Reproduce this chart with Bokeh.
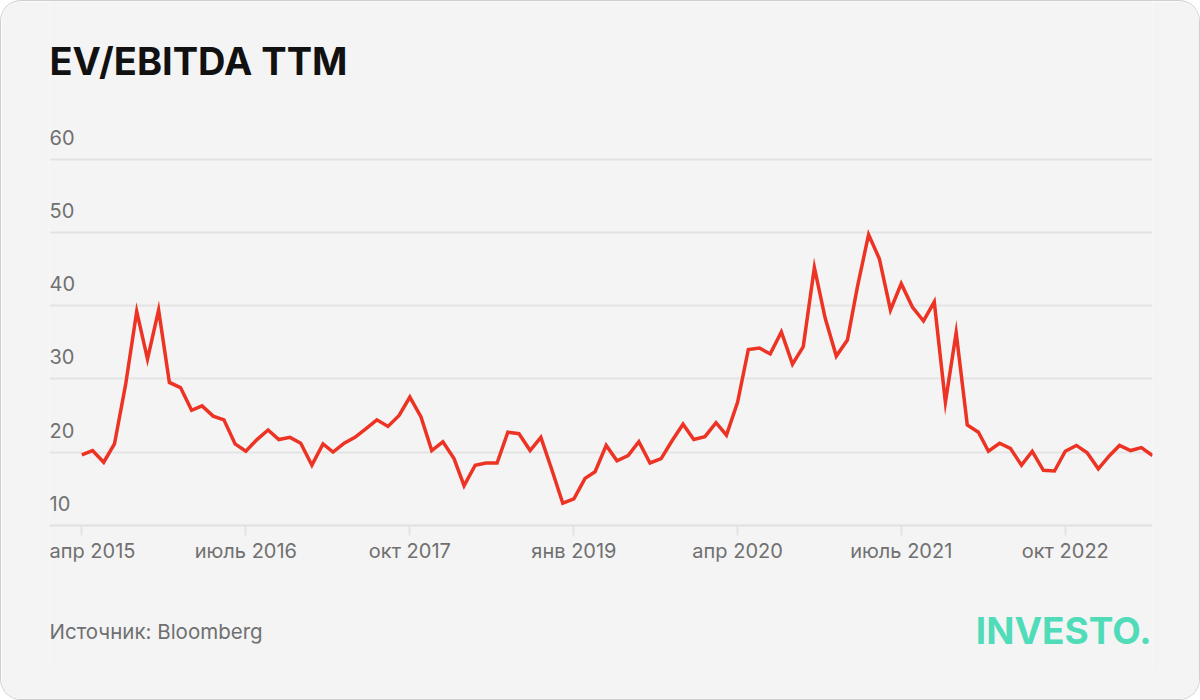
import pandas as pd
from bokeh.plotting import figure
from bokeh.models import FixedTicker, ColumnDataSource, Range1d
from bokeh.core.properties import value
from bokeh.embed import file_html
from bokeh.resources import INLINE

# ---------------- data ----------------
start_month = "2015-04-01"
ev_ebitda = [
    19.6, 20.2, 18.6, 21.1, 29.2, 39.2, 32.7, 39.4, 29.5, 28.8,
    25.7, 26.3, 24.9, 24.4, 21.1, 20.1, 21.7, 23.0, 21.7, 22.0,
    21.2, 18.2, 21.1, 20.0, 21.2, 22.0, 23.2, 24.4, 23.5, 25.0,
    27.5, 24.8, 20.2, 21.4, 19.1, 15.4, 18.2, 18.5, 18.5, 22.7,
    22.5, 20.2, 22.0, 17.5, 13.0, 13.6, 16.4, 17.3, 20.9, 18.8,
    19.5, 21.4, 18.5, 19.1, 21.5, 23.8, 21.7, 22.1, 24.0, 22.3,
    26.8, 34.0, 34.2, 33.4, 36.4, 32.0, 34.4, 45.2, 38.3, 33.1,
    35.3, 42.6, 49.7, 46.4, 39.4, 43.0, 39.8, 37.9, 40.5, 26.8,
    36.3, 23.7, 22.7, 20.1, 21.2, 20.5, 18.2, 20.1, 17.5, 17.4,
    20.1, 20.9, 19.9, 17.7, 19.5, 20.9, 20.2, 20.6, 19.5,
]
y_ticks = [10, 20, 30, 40, 50, 60]
x_tick_dates = ["2015-04-01", "2016-07-01", "2017-10-01", "2019-01-01",
                "2020-04-01", "2021-07-01", "2022-10-01"]
x_tick_labels = ["апр 2015", "июль 2016", "окт 2017", "янв 2019",
                 "апр 2020", "июль 2021", "окт 2022"]
title_text = "EV/EBITDA TTM"
source_text = "Источник: Bloomberg"
logo_text = "INVESTO."

# ---------------- build ----------------
dates = pd.date_range(start_month, periods=len(ev_ebitda), freq="MS")
src = ColumnDataSource(dict(date=dates, val=ev_ebitda))

x_start = dates[0] - pd.DateOffset(months=3)
x_end = dates[-1]
tick_ts = [pd.Timestamp(d) for d in x_tick_dates]

W, H = 1198, 698
Y0, Y1 = -9.713, 81.544   # frame spans the whole height above the axis panel

p = figure(width=W, height=H, x_axis_type="datetime", title=None,
           y_axis_location=None,
           x_range=Range1d(x_start, x_end), y_range=Range1d(Y0, Y1),
           output_backend="svg", toolbar_location=None,
           min_border_left=48, min_border_right=47,
           min_border_top=0, min_border_bottom=30,
           background_fill_color="#f4f4f4", border_fill_color="#f4f4f4",
           outline_line_color=None)
p.styles = {"position": "absolute", "left": "1px", "top": "1px",
            "border-radius": "20px", "overflow": "hidden",
            "box-shadow": "0 0 0 1px #cfcfcf"}

p.xgrid.visible = False
p.ygrid.ticker = FixedTicker(ticks=y_ticks)
p.ygrid.grid_line_color = "#e3e3e3"
p.ygrid.grid_line_width = 2

xa = p.xaxis[0]
xa.fixed_location = y_ticks[0]
xa.ticker = FixedTicker(ticks=[t.value / 1e6 for t in tick_ts])
xa.axis_line_color = "#e3e3e3"
xa.axis_line_width = 2
xa.major_tick_line_color = "#e3e3e3"
xa.major_tick_line_width = 2
xa.major_tick_out = 10
xa.major_tick_in = 0
xa.minor_tick_line_color = None
xa.major_label_text_color = None
xa.major_label_text_font_size = "1px"

p.line(x="date", y="val", source=src, line_color="#ec3324",
       line_width=3.5, line_join="miter")

GRAY = "#707070"
INTER = value("Inter")

# y tick labels above gridlines
ysrc = ColumnDataSource(dict(x=[x_start] * len(y_ticks), y=y_ticks,
                             t=[str(v) for v in y_ticks]))
p.text(x="x", y="y", text="t", source=ysrc, text_font=INTER,
       text_font_size="20px", text_color=GRAY,
       text_baseline="alphabetic", text_align="left", y_offset=-22)

# x tick labels: first one aligned to the plot's left edge, others centred
first_src = ColumnDataSource(dict(x=[x_start], y=[y_ticks[0]], t=x_tick_labels[:1]))
rest_src = ColumnDataSource(dict(x=tick_ts[1:], y=[y_ticks[0]] * (len(tick_ts) - 1),
                                 t=x_tick_labels[1:]))
for s, align in ((first_src, "left"), (rest_src, "center")):
    p.text(x="x", y="y", text="t", source=s, text_font=INTER,
           text_font_size="20px", text_color=GRAY,
           text_baseline="alphabetic", text_align=align, y_offset=25.5)

# title, source, logo
p.text(x=[x_start], y=[Y1], text=[title_text], text_font=INTER,
       text_font_style="bold", text_font_size="38px", text_color="#111111",
       text_baseline="alphabetic", text_align="left", y_offset=59.2)
p.text(x=[x_start], y=[Y0], text=[source_text], text_font=INTER,
       text_font_size="20.5px", text_color=GRAY,
       text_baseline="alphabetic", text_align="left", y_offset=-38)
p.text(x=[x_end], y=[Y0], text=[logo_text], text_font=INTER,
       text_font_style="bold", text_font_size="37px", text_color="#50dcb9",
       text_baseline="alphabetic", text_align="right", x_offset=-1,
       y_offset=-39.3)

open("out.html", "w").write(file_html(p, INLINE))
